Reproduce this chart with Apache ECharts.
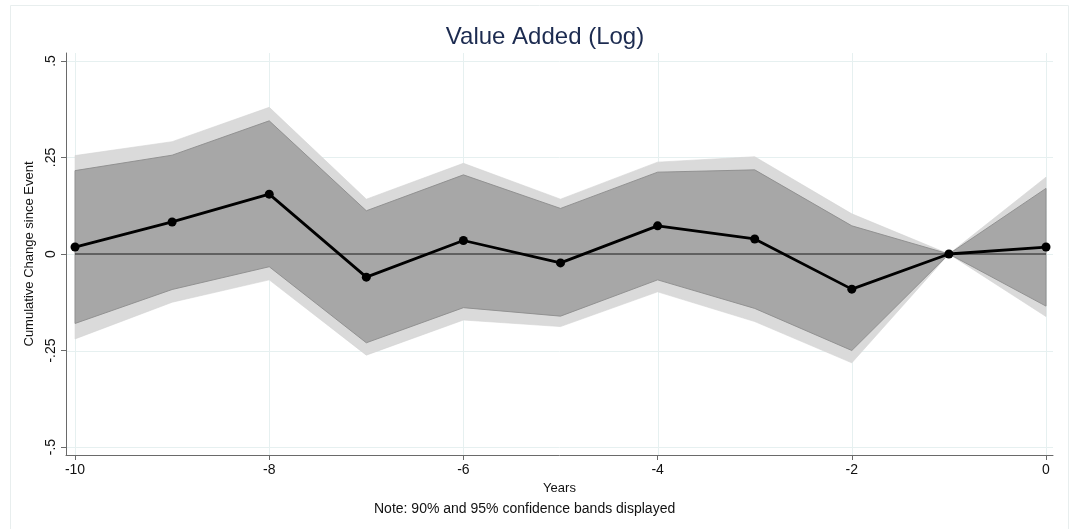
<!DOCTYPE html>
<html>
<head>
<meta charset="utf-8">
<script src="https://cdn.jsdelivr.net/npm/echarts@6/dist/echarts.min.js"></script>
<style>
  html, body { margin: 0; padding: 0; background: #ffffff; }
  #chart { width: 1071px; height: 529px; }
</style>
</head>
<body>
<div id="chart"></div>
<script>
// Event-study estimates: years relative to event, point estimates and confidence bands
const years = [-10, -9, -8, -7, -6, -5, -4, -3, -2, -1, 0];
const estimate = [0.018, 0.083, 0.155, -0.060, 0.035, -0.023, 0.073, 0.039, -0.091, 0, 0.018];
const ci90Upper = [0.216, 0.256, 0.345, 0.112, 0.205, 0.118, 0.212, 0.218, 0.073, 0, 0.170];
const ci90Lower = [-0.180, -0.092, -0.033, -0.230, -0.139, -0.161, -0.067, -0.141, -0.250, 0, -0.135];
const ci95Upper = [0.255, 0.291, 0.380, 0.142, 0.235, 0.142, 0.238, 0.252, 0.104, 0, 0.199];
const ci95Lower = [-0.220, -0.125, -0.067, -0.262, -0.171, -0.188, -0.098, -0.175, -0.282, 0, -0.162];
const xTicks = [-10, -8, -6, -4, -2, 0];
const yTicks = [-0.5, -0.25, 0, 0.25, 0.5];

const FONT = '"Liberation Sans", Arial, Helvetica, sans-serif';
const GRID_COLOR = '#e6f0f0';

// Polygon for a band between a lower and an upper bound
function bandSeries(lower, upper, fill, stroke, strokeWidth, z) {
  return {
    type: 'custom',
    z: z,
    silent: true,
    data: years.map((y, i) => [y, upper[i]]),
    encode: { x: 0, y: 1 },
    renderItem: function (params, api) {
      if (params.dataIndex !== 0) return null;
      const pts = [];
      for (let i = 0; i < years.length; i++) pts.push(api.coord([years[i], upper[i]]));
      for (let i = years.length - 1; i >= 0; i--) pts.push(api.coord([years[i], lower[i]]));
      return {
        type: 'polygon',
        shape: { points: pts },
        style: { fill: fill, stroke: stroke, lineWidth: strokeWidth }
      };
    }
  };
}

// Light gridlines at the labelled tick values, spanning the plot area
const gridSeries = {
  type: 'custom',
  z: 0,
  silent: true,
  data: [[xTicks[0], yTicks[0]]],
  encode: { x: 0, y: 1 },
  renderItem: function (params, api) {
    const cs = params.coordSys;
    const children = [];
    xTicks.forEach(v => {
      const x = Math.round(api.coord([v, 0])[0]) + 0.5;
      children.push({ type: 'line', shape: { x1: x, y1: cs.y, x2: x, y2: cs.y + cs.height },
        style: { stroke: GRID_COLOR, lineWidth: 1 } });
    });
    yTicks.forEach(v => {
      const y = Math.round(api.coord([0, v])[1]) + 0.5;
      children.push({ type: 'line', shape: { x1: cs.x, y1: y, x2: cs.x + cs.width, y2: y },
        style: { stroke: GRID_COLOR, lineWidth: 1 } });
    });
    return { type: 'group', children: children };
  }
};

function fmtY(v) {
  if (Math.abs(v) < 1e-9) return '0';
  const s = String(Math.abs(v)).replace(/^0/, '');
  return (v < 0 ? '-' : '') + s;
}

const chart = echarts.init(document.getElementById('chart'), null, { renderer: 'canvas' });

chart.setOption({
  animation: false,
  backgroundColor: '#ffffff',
  textStyle: { fontFamily: FONT },
  title: {
    text: 'Value Added (Log)',
    left: 540,
    textAlign: 'center',
    top: 20,
    textStyle: { fontFamily: FONT, fontSize: 24, fontWeight: 'normal', color: '#1c2b50' }
  },
  graphic: [
    {
      type: 'rect',
      silent: true,
      z: -10,
      shape: { x: 10.5, y: 5.5, width: 1058, height: 600 },
      style: { fill: 'none', stroke: '#e8eeee', lineWidth: 1 }
    },
    {
      type: 'text',
      left: 374,
      top: 502,
      style: {
        text: 'Note: 90% and 95% confidence bands displayed',
        fontFamily: FONT,
        fontSize: 14,
        fill: '#111111'
      }
    }
  ],
  grid: { left: 66, right: 18, top: 53, bottom: 74, containLabel: false },
  xAxis: {
    type: 'value',
    min: -10.093,
    max: 0.072,
    name: 'Years',
    nameLocation: 'middle',
    nameGap: 26,
    nameTextStyle: { fontFamily: FONT, fontSize: 13, color: '#111111' },
    axisLine: { show: true, onZero: false, lineStyle: { color: '#6a6a6a', width: 1 } },
    axisTick: { show: true, length: 5, customValues: xTicks, lineStyle: { color: '#6a6a6a' } },
    axisLabel: {
      customValues: xTicks,
      margin: 8,
      fontFamily: FONT,
      fontSize: 14,
      color: '#111111',
      formatter: v => String(v)
    },
    splitLine: { show: false }
  },
  yAxis: {
    type: 'value',
    min: -0.5207,
    max: 0.5207,
    name: 'Cumulative Change since Event',
    nameLocation: 'middle',
    nameGap: 30,
    nameRotate: 90,
    nameTextStyle: { fontFamily: FONT, fontSize: 13, color: '#111111' },
    axisLine: { show: true, onZero: false, lineStyle: { color: '#6a6a6a', width: 1 } },
    axisTick: { show: true, length: 5, customValues: yTicks, lineStyle: { color: '#6a6a6a' } },
    axisLabel: {
      customValues: yTicks,
      rotate: 90,
      margin: 8,
      fontFamily: FONT,
      fontSize: 14,
      color: '#111111',
      formatter: fmtY
    },
    splitLine: { show: false }
  },
  series: [
    gridSeries,
    bandSeries(ci95Lower, ci95Upper, '#dadada', '#d4d4d4', 0.6, 1),
    bandSeries(ci90Lower, ci90Upper, '#a7a7a7', '#8c8c8c', 0.9, 2),
    {
      type: 'line',
      z: 3,
      silent: true,
      symbol: 'none',
      data: [[years[0], 0], [years[years.length - 1], 0]],
      lineStyle: { color: '#1a1a1a', width: 1 }
    },
    {
      type: 'line',
      z: 4,
      silent: true,
      data: years.map((y, i) => [y, estimate[i]]),
      symbol: 'circle',
      symbolSize: 9,
      itemStyle: { color: '#000000' },
      lineStyle: { color: '#000000', width: 2.8 }
    }
  ]
});
</script>
</body>
</html>
